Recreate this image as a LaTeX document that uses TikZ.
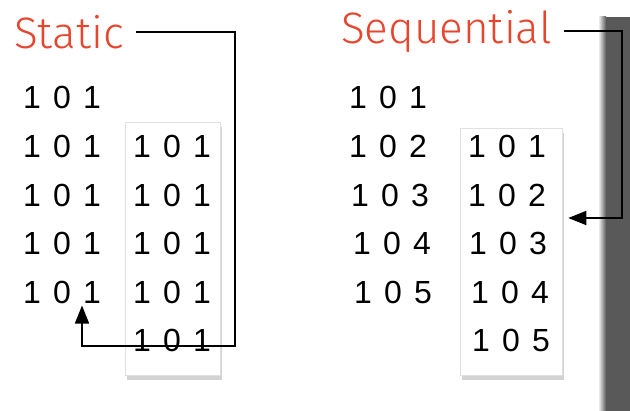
\documentclass[tikz,border=0pt]{standalone}
\usepackage{fontspec}
\setmainfont{Liberation Sans}
\newfontfamily\titlefont{Fira Sans Light}
\usetikzlibrary{shadows,arrows.meta}
\definecolor{titlered}{RGB}{230,70,45}
\newcommand{\bitrow}[3]{\makebox[30pt]{#1}\makebox[30pt]{#2}\makebox[30pt]{#3}}
\tikzset{
  title/.style={font=\titlefont\fontsize{44}{44}\selectfont, text=titlered, inner sep=0pt},
  bits/.style={font=\fontsize{32}{32}\selectfont, inner sep=2pt},
  panel/.style={draw=black!12, fill=white, line width=0.6pt,
    drop shadow={shadow xshift=2pt, shadow yshift=-5pt, opacity=0.35}},
  arr/.style={line width=1.7pt, -{Triangle[length=18pt,width=14pt]}},
}
\begin{document}
\begin{tikzpicture}[x=1pt, y=-1pt]
\useasboundingbox (0,0) rectangle (630,411);
% Grey side bar
\shade[left color=white, right color=black!65] (598,17) rectangle (606,411);
\fill[black!65] (606,17) rectangle (630,411);
% Titles
\node[title, anchor=west] (stitle) at (14,32) {Static};
\node[title, anchor=west] (qtitle) at (341,31) {Sequential};
% Panels
\node[panel, minimum width=95pt, minimum height=253pt] (sbox) at (172.5,248.5) {};
\node[panel, minimum width=102pt, minimum height=247pt] (qbox) at (511,251.5) {};
% Static, left column
\node[bits] (sl1) at (62,97) {\bitrow 101};
\node[bits] (sl2) at (62,146) {\bitrow 101};
\node[bits] (sl3) at (62,195) {\bitrow 101};
\node[bits] (sl4) at (62,243) {\bitrow 101};
\node[bits] (sl5) at (62,292) {\bitrow 101};
% Static, panel column
\node[bits] (sr1) at (172,146) {\bitrow 101};
\node[bits] (sr2) at (172,195) {\bitrow 101};
\node[bits] (sr3) at (172,243) {\bitrow 101};
\node[bits] (sr4) at (172,292) {\bitrow 101};
\node[bits] (sr5) at (172,340) {\bitrow 101};
% Sequential, left column
\node[bits] (ql1) at (388,97) {\bitrow 101};
\node[bits] (ql2) at (388,146) {\bitrow 102};
\node[bits] (ql3) at (390,195) {\bitrow 103};
\node[bits] (ql4) at (392,243) {\bitrow 104};
\node[bits] (ql5) at (393,292) {\bitrow 105};
% Sequential, panel column
\node[bits] (qr1) at (507,146) {\bitrow 101};
\node[bits] (qr2) at (507,195) {\bitrow 102};
\node[bits] (qr3) at (508,243) {\bitrow 103};
\node[bits] (qr4) at (510,292) {\bitrow 104};
\node[bits] (qr5) at (511,340) {\bitrow 105};
% Connectors
\coordinate (sbend) at (235,346);
\coordinate (qbend) at (622,218);
\draw[arr] (stitle.east) ++(12,0) -| (sbend) -| ([xshift=20pt]sl5.south);
\draw[arr] (qtitle.east) ++(12,0) -| (qbend) -- ([xshift=6pt]qbend -| qbox.east);
\end{tikzpicture}
\end{document}
